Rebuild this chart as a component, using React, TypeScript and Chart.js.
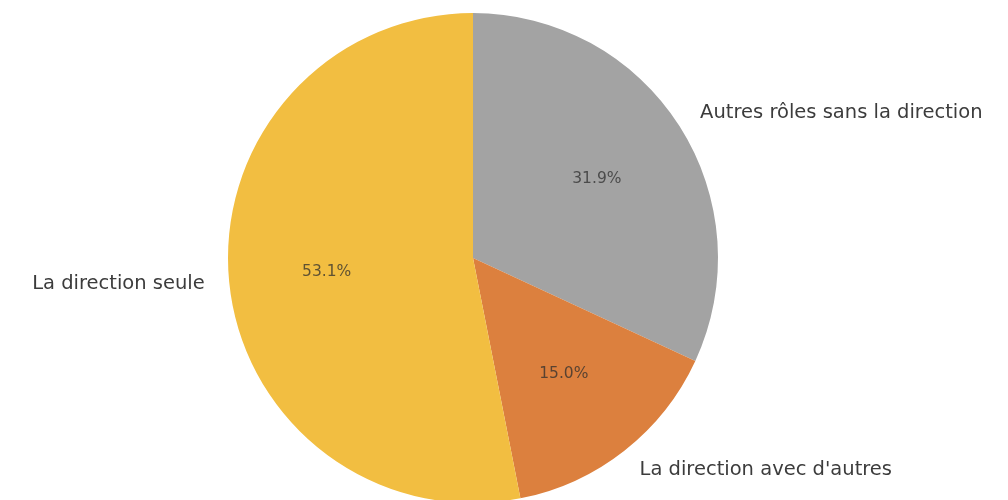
import React, { useEffect, useRef } from "react";
import { Chart, registerables } from "chart.js";

Chart.register(...registerables);

const categories = ["Autres rôles sans la direction", "La direction avec d'autres", "La direction seule"];
const values = [31.9, 15.0, 53.1];
const colors = ["#A3A3A3", "#DC803E", "#F2BE41"];

const labelPlugin = {
  id: "pieLabels",
  afterDatasetsDraw(chart: any) {
    const ctx = chart.ctx;
    const meta = chart.getDatasetMeta(0);
    const total = values.reduce((a, b) => a + b, 0);
    meta.data.forEach((arc: any, i: number) => {
      const { x, y, startAngle, endAngle, outerRadius } = arc.getProps(
        ["x", "y", "startAngle", "endAngle", "outerRadius"],
        true
      );
      const mid = (startAngle + endAngle) / 2;
      const cx = Math.cos(mid);
      const sy = Math.sin(mid);
      ctx.save();
      ctx.font = "19.5px 'DejaVu Sans'";
      ctx.fillStyle = "#3c3c3c";
      ctx.textBaseline = "middle";
      ctx.textAlign = cx > 0 ? "left" : "right";
      ctx.fillText(categories[i], x + outerRadius * 1.1 * cx, y + outerRadius * 1.1 * sy);
      ctx.font = "15.5px 'DejaVu Sans'";
      ctx.fillStyle = "rgba(45,45,45,0.75)";
      ctx.textAlign = "center";
      const pct = ((values[i] / total) * 100).toFixed(1) + "%";
      ctx.fillText(pct, x + outerRadius * 0.6 * cx, y + outerRadius * 0.6 * sy);
      ctx.restore();
    });
  },
};

export default function App() {
  const ref = useRef<HTMLCanvasElement>(null);
  useEffect(() => {
    if (!ref.current) return;
    const chart = new Chart(ref.current, {
      type: "pie",
      data: {
        labels: categories,
        datasets: [
          {
            data: values,
            backgroundColor: colors,
            borderWidth: 0,
            hoverOffset: 0,
          },
        ],
      },
      options: {
        animation: false,
        responsive: false,
        maintainAspectRatio: false,
        layout: { padding: { left: 228, right: 290, top: 13, bottom: 17 } },
        plugins: {
          legend: { display: false },
          tooltip: { enabled: false },
        },
      },
      plugins: [labelPlugin],
    });
    return () => chart.destroy();
  }, []);
  return (
    <div
      style={{
        position: "absolute",
        left: 0,
        top: 0,
        width: 1008,
        height: 500,
        overflow: "hidden",
        background: "#fff",
      }}
    >
      <canvas ref={ref} width={1008} height={520} style={{ display: "block" }} />
    </div>
  );
}
